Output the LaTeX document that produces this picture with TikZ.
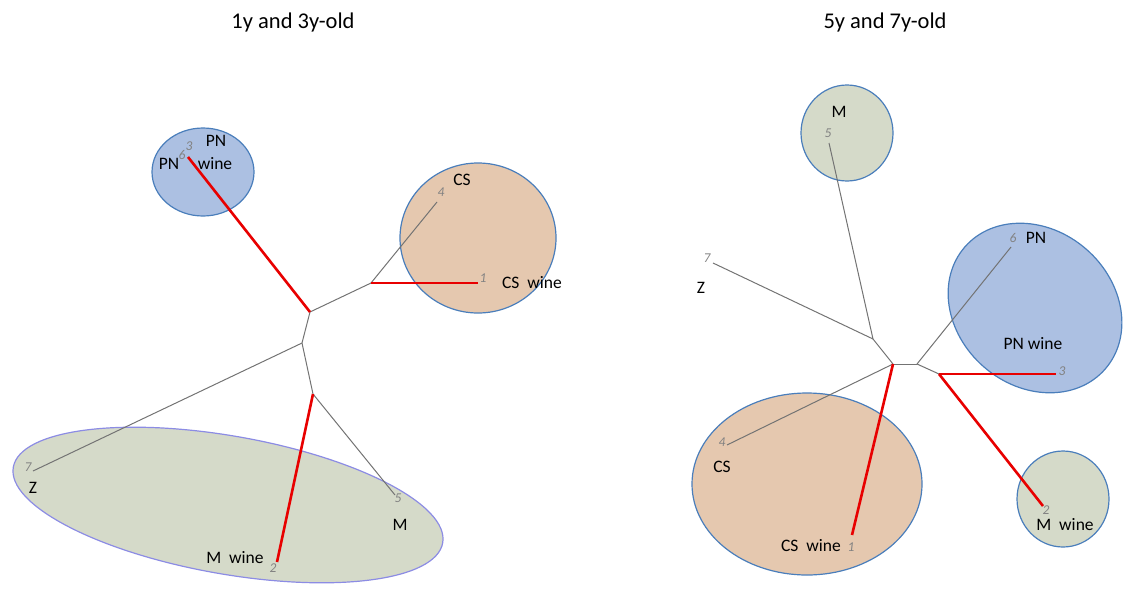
\documentclass[tikz,border=0pt]{standalone}
\usepackage{fontspec}
\setmainfont{Carlito}
\usetikzlibrary{shapes.geometric}
\definecolor{pnfill}{RGB}{172,192,226}
\definecolor{csfill}{RGB}{229,200,175}
\definecolor{mfill}{RGB}{213,218,201}
\definecolor{outl}{RGB}{74,126,187}
\definecolor{purpl}{RGB}{140,140,228}
\definecolor{branch}{RGB}{115,115,115}
\definecolor{numc}{RGB}{130,130,130}
\definecolor{redl}{RGB}{232,0,0}
\tikzset{
  blob/.style={ellipse, draw=outl, line width=1.2pt, inner sep=0pt, minimum width=#1},
  gr/.style={draw=branch, line width=1pt},
  rd/.style={draw=redl, line width=2.6pt},
  lab/.style={font=\fontsize{17.5}{19}\selectfont, text=black, inner sep=0pt},
  num/.style={font=\fontsize{13.5}{15}\selectfont\itshape, text=numc, inner sep=0pt},
  ttl/.style={font=\fontsize{22.5}{25}\selectfont, text=black, inner sep=0pt}
}
\begin{document}
\begin{tikzpicture}[x=1pt,y=-1pt]
\useasboundingbox (0,0) rectangle (1126,592);
% titles
\node[ttl] (t1) at (293,22) {1y and 3y-old};
\node[ttl] (t2) at (885,22) {5y and 7y-old};
% ----- left panel blobs
\node[blob=436pt, minimum height=138pt, draw=purpl, fill=mfill, rotate=-10] (gM) at (228,505) {};
\node[blob=102pt, minimum height=88pt, fill=pnfill] (gPN) at (203,172) {};
\node[blob=156pt, minimum height=150pt, fill=csfill] (gCS) at (478,238) {};
% left tree
\coordinate (a) at (310,312);
\coordinate (b) at (302,343);
\coordinate (c) at (313,394);
\coordinate (d) at (371,283);
\coordinate (l4) at (437,202);
\coordinate (l1) at (478,283);
\coordinate (lpn) at (188,157);
\coordinate (l7) at (33,471);
\coordinate (l5) at (395,495);
\coordinate (l2) at (277,562);
\draw[gr] (a) -- (b);
\draw[gr] (b) -- (c);
\draw[gr] (b) -- (l7);
\draw[gr] (a) -- (d);
\draw[gr] (d) -- (l4);
\draw[gr] (c) -- (l5);
\draw[rd] (d) -- (l1);
\draw[rd] (a) -- (lpn);
\draw[rd] (c) -- (l2);
% left labels
\node[num] (n3a) at (189,146) {3};
\node[num] (n6a) at (182,155) {6};
\node[lab] (pnA) at (216,141) {PN};
\node[lab] (pnB) at (169,164) {PN};
\node[lab] (wnA) at (215,164) {wine};
\node[num] (n4a) at (441,192) {4};
\node[lab] (csA) at (462,180) {CS};
\node[num] (n1a) at (483,278) {1};
\node[lab] (cswA) at (532,283) {CS\ \ wine};
\node[num] (n7a) at (28,467) {7};
\node[lab] (zA) at (33,488) {Z};
\node[num] (n5a) at (398,498) {5};
\node[lab] (mA) at (400,525) {M};
\node[num] (n2a) at (273,568) {2};
\node[lab] (mwA) at (235,558) {M\ \ wine};
% ----- right panel blobs
\node[blob=92pt, minimum height=96pt, fill=mfill] (rM) at (847,133) {};
\node[blob=186pt, minimum height=156pt, fill=pnfill, rotate=-41] (rPN) at (1035,308) {};
\node[blob=230pt, minimum height=182pt, fill=csfill] (rCS) at (807,484) {};
\node[blob=92pt, minimum height=96pt, fill=mfill] (rMw) at (1063,499) {};
% right tree
\coordinate (g) at (873,339);
\coordinate (e) at (893,364);
\coordinate (f) at (917,364);
\coordinate (h) at (939,374);
\coordinate (r5) at (829,143);
\coordinate (r7) at (713,263);
\coordinate (r4) at (727,445);
\coordinate (r1) at (852,535);
\coordinate (r6) at (1011,247);
\coordinate (r3) at (1056,374);
\coordinate (r2) at (1043,506);
\draw[gr] (g) -- (r5);
\draw[gr] (g) -- (r7);
\draw[gr] (g) -- (e);
\draw[gr] (e) -- (f);
\draw[gr] (e) -- (r4);
\draw[gr] (f) -- (r6);
\draw[gr] (f) -- (h);
\draw[rd] (e) -- (r1);
\draw[rd] (h) -- (r3);
\draw[rd] (h) -- (r2);
% right labels
\node[lab] (mB) at (839,112) {M};
\node[num] (n5b) at (828,133) {5};
\node[num] (n7b) at (707,258) {7};
\node[lab] (zB) at (701,288) {Z};
\node[num] (n6b) at (1013,238) {6};
\node[lab] (pnC) at (1036,238) {PN};
\node[lab] (pnwB) at (1033,344) {PN wine};
\node[num] (n3b) at (1062,371) {3};
\node[num] (n4b) at (722,442) {4};
\node[lab] (csB) at (722,467) {CS};
\node[lab] (cswB) at (811,546) {CS\ \ wine};
\node[num] (n1b) at (851,547) {1};
\node[num] (n2b) at (1046,510) {2};
\node[lab] (mwB) at (1065,525) {M\ \ wine};
\end{tikzpicture}
\end{document}
